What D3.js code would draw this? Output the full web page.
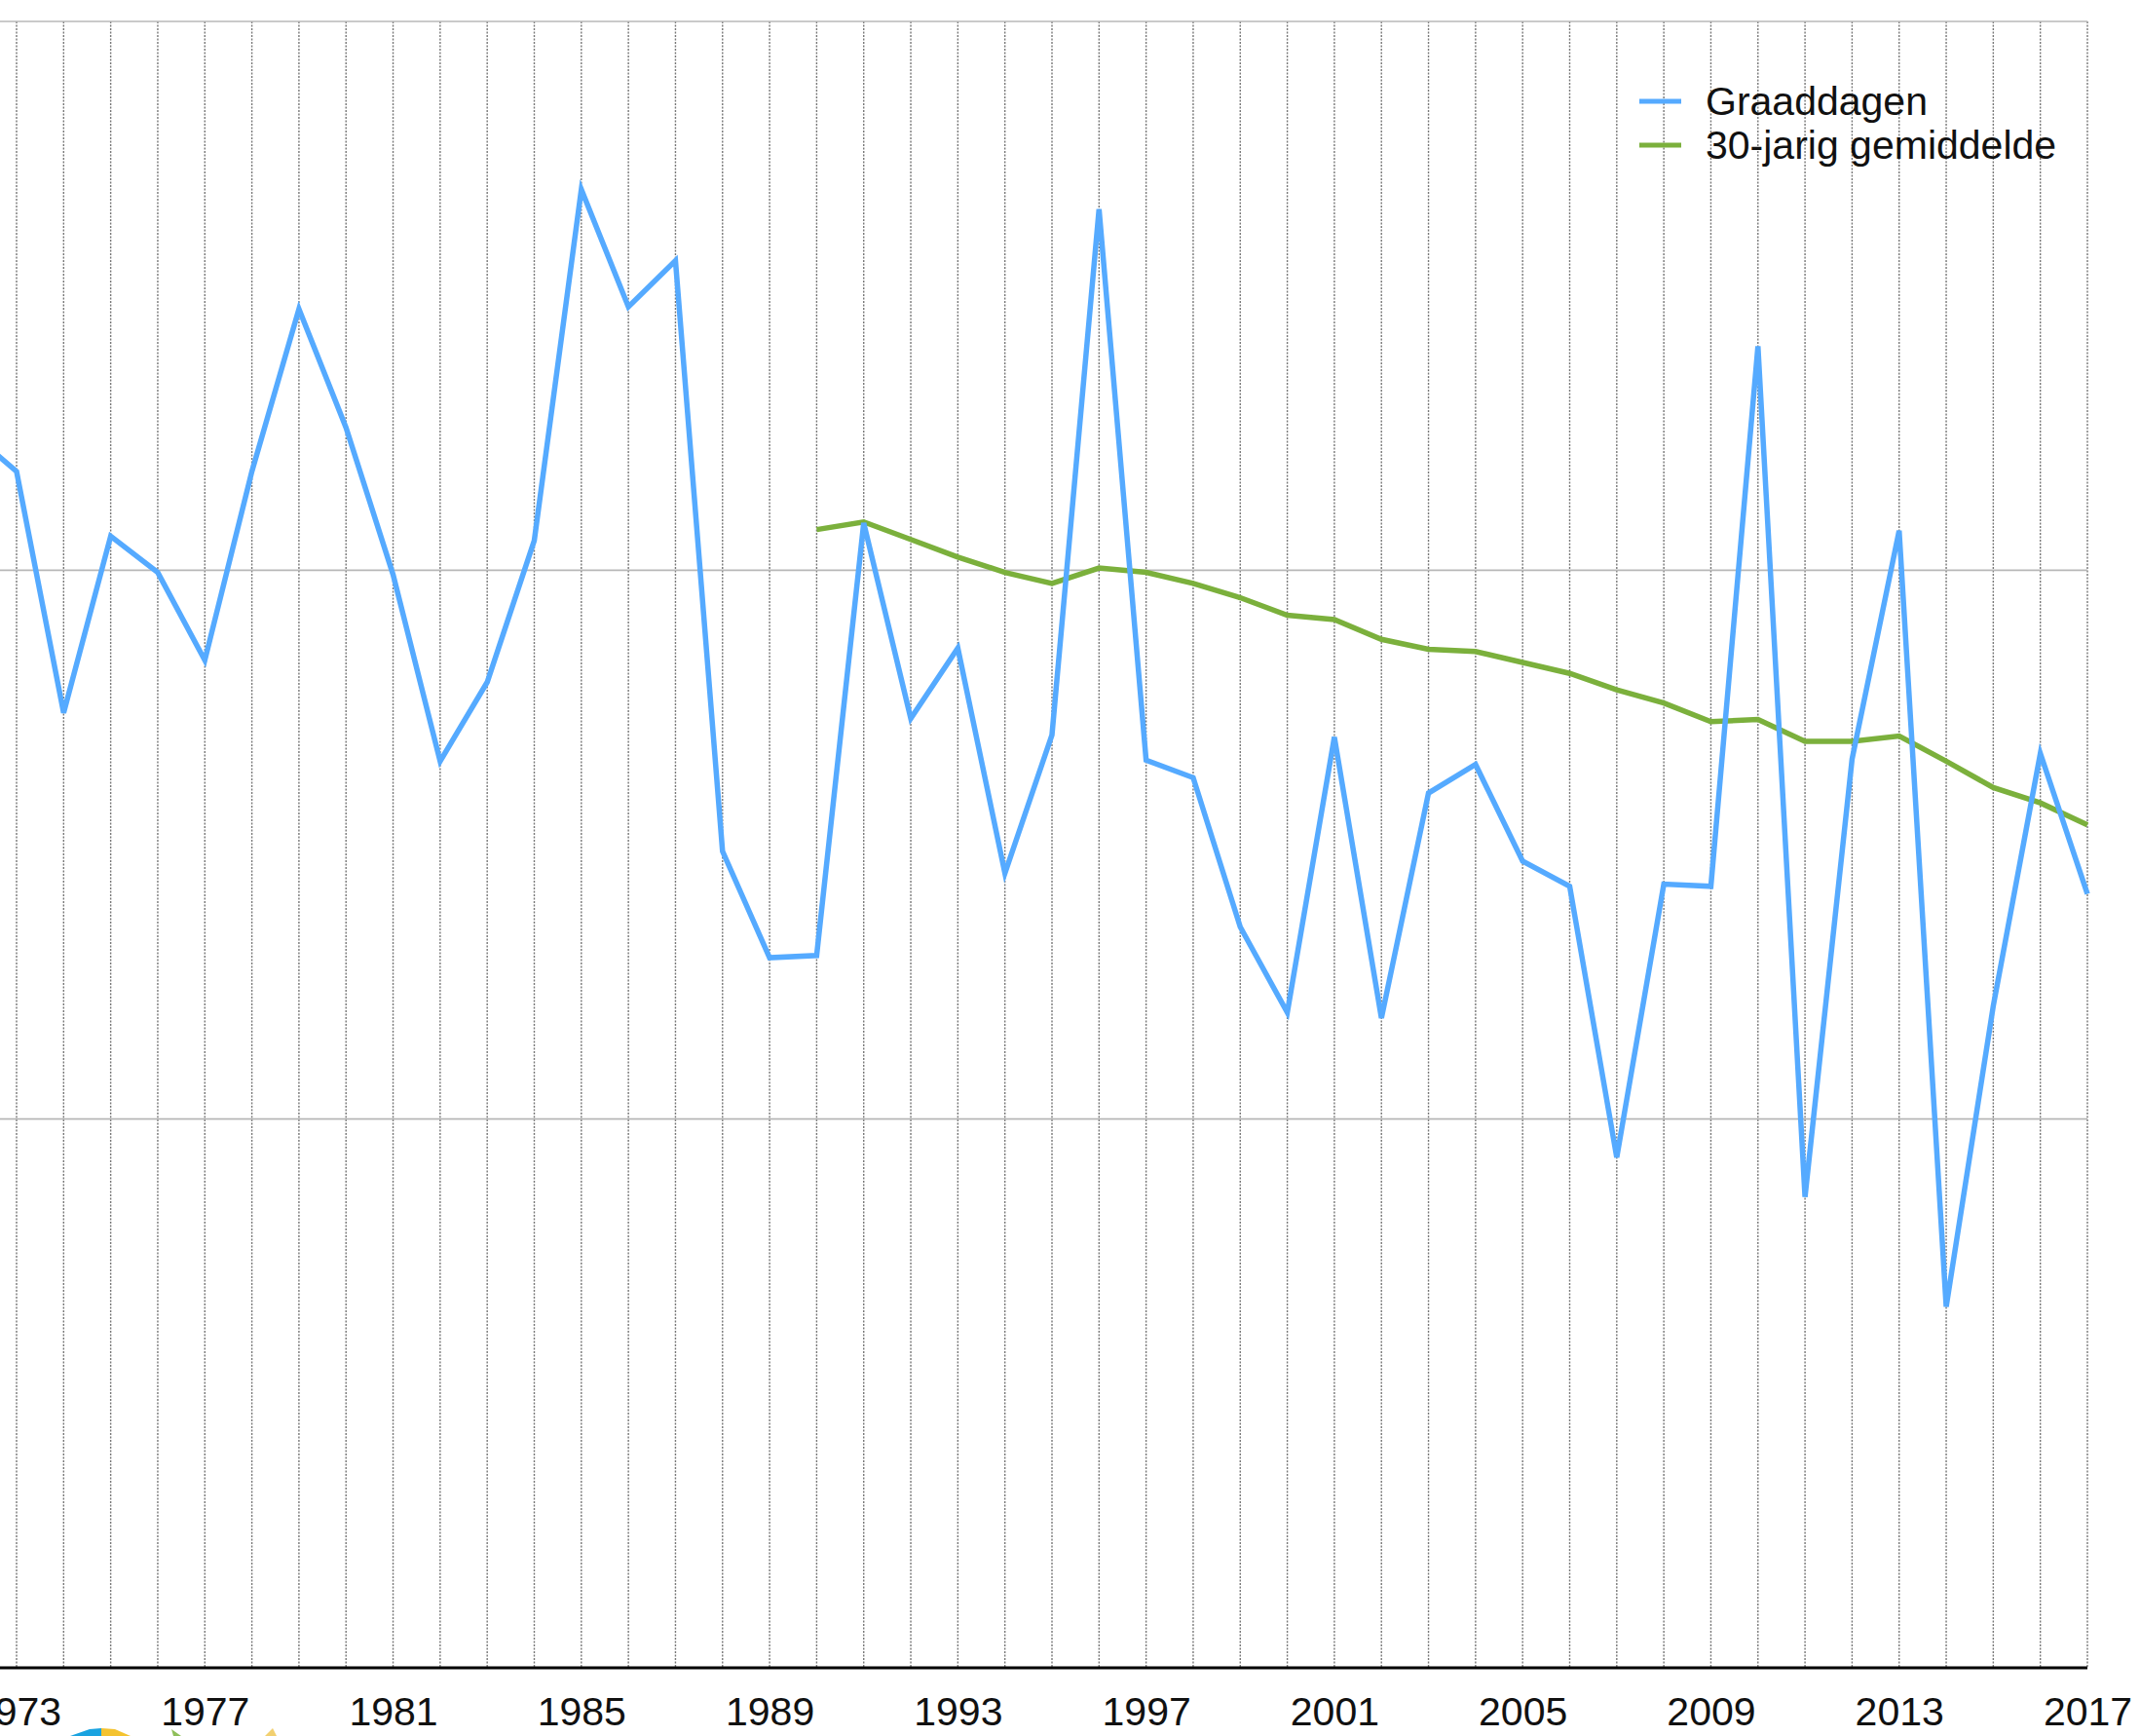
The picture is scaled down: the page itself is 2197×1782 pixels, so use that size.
<!DOCTYPE html>
<html>
<head>
<meta charset="utf-8">
<script src="https://cdnjs.cloudflare.com/ajax/libs/d3/7.8.5/d3.min.js"></script>
<style>
  html, body { margin: 0; padding: 0; background: #fff; }
  svg { display: block; }
  text { font-family: "Liberation Sans", Arial, Helvetica, sans-serif; fill: #111; }
  .axis text { font-size: 41px; }
  .legend text { font-size: 41px; }
</style>
</head>
<body>
<div id="chart"></div>
<script>
// years shown on the x axis (chart is cropped on the left, 1972 falls just outside)
var years = d3.range(1972, 2018);
var graaddagen = [
  3127, 3090, 2870, 3031, 2998, 2918, 3090, 3238, 3130, 2996,
  2826, 2898, 3027, 3347, 3240, 3282, 2744, 2647, 2649, 3043,
  2865, 2929, 2724, 2850, 3329, 2827, 2811, 2675, 2597, 2848,
  2592, 2797, 2823, 2735, 2712, 2465, 2714, 2712, 3204, 2429,
  2828, 3036, 2329, 2603, 2833, 2705
];
// 30-jarig gemiddelde starts in 1990
var avgYears = d3.range(1990, 2018);
var gemiddelde = [
  3037, 3044, 3028, 3012, 2998, 2988, 3002, 2998, 2988, 2975,
  2959, 2955, 2937, 2928, 2926, 2916, 2906, 2891, 2879, 2862,
  2864, 2844, 2844, 2849, 2826, 2802, 2788, 2768
];
var tickYears = d3.range(1973, 2018, 4);
var yTicks = [2500, 3000, 3500];
var legendItems = [
  {label: 'Graaddagen', color: '#55aaff'},
  {label: '30-jarig gemiddelde', color: '#7bb03c'}
];

var width = 2197, height = 1782;

var svg = d3.select('#chart').append('svg')
  .attr('width', width)
  .attr('height', height);

var x = d3.scaleLinear().domain([1973, 2017]).range([17, 2143]);
var y = d3.scaleLinear().domain([2000, 3500]).range([1712, 22]);

//vertical dotted gridlines, one per year
svg.append('g')
  .selectAll('line')
  .data(d3.range(1973, 2018))
  .enter().append('line')
  .attr('x1', function (d) { return x(d); })
  .attr('x2', function (d) { return x(d); })
  .attr('y1', y(3500))
  .attr('y2', y(2000))
  .attr('stroke', '#777')
  .attr('stroke-width', 1.4)
  .attr('stroke-dasharray', '2,1.5');

//horizontal gridlines
svg.append('g')
  .selectAll('line')
  .data(yTicks)
  .enter().append('line')
  .attr('x1', 0)
  .attr('x2', x(2017))
  .attr('y1', function (d) { return y(d); })
  .attr('y2', function (d) { return y(d); })
  .attr('stroke', '#b8b8b8')
  .attr('stroke-width', 1.6);

//x axis: bold baseline, no ticks
var xAxis = d3.axisBottom(x)
  .tickValues(tickYears)
  .tickFormat(d3.format('d'))
  .tickSize(0)
  .tickPadding(0);

var axisG = svg.append('g')
  .attr('class', 'axis')
  .attr('transform', 'translate(0,' + y(2000) + ')')
  .call(xAxis);
axisG.select('.domain').remove();
axisG.selectAll('text')
  .attr('y', 59)
  .attr('dy', null)
  .attr('fill', '#111');
axisG.append('line')
  .attr('x1', 0)
  .attr('x2', x(2017))
  .attr('stroke', '#000')
  .attr('stroke-width', 3.2);

var line = d3.line()
  .x(function (d) { return x(d[0]); })
  .y(function (d) { return y(d[1]); });

svg.append('path')
  .datum(d3.zip(avgYears, gemiddelde))
  .attr('d', line)
  .attr('fill', 'none')
  .attr('stroke', legendItems[1].color)
  .attr('stroke-width', 5.5)
  .attr('stroke-linejoin', 'miter');

svg.append('path')
  .datum(d3.zip(years, graaddagen))
  .attr('d', line)
  .attr('fill', 'none')
  .attr('stroke', legendItems[0].color)
  .attr('stroke-width', 5.5)
  .attr('stroke-linejoin', 'miter');

//legend
var legend = svg.append('g')
  .attr('class', 'legend')
  .attr('transform', 'translate(1683,118)');

legendItems.forEach(function (item, index) {
  var g = legend.append('g').attr('transform', 'translate(0,' + index * 45 + ')');
  g.append('line')
    .attr('x1', 0).attr('x2', 43)
    .attr('y1', -14).attr('y2', -14)
    .attr('stroke', item.color)
    .attr('stroke-width', 5);
  g.append('text')
    .attr('x', 68)
    .attr('y', 0)
    .text(item.label);
});

//fragment of a logo cut off at the bottom edge
var logo = svg.append('g');
logo.append('path').attr('d', 'M72 1782 L92 1775 L104 1774 L104 1782 Z').attr('fill', '#1aa3e0');
logo.append('path').attr('d', 'M104 1774 L118 1775 L134 1782 L104 1782 Z').attr('fill', '#f4c330');
logo.append('path').attr('d', 'M176 1775 L186 1782 L178 1782 Z').attr('fill', '#8fbf5a');
logo.append('path').attr('d', 'M272 1782 L280 1774 L284 1782 Z').attr('fill', '#f2d070');
</script>
</body>
</html>
